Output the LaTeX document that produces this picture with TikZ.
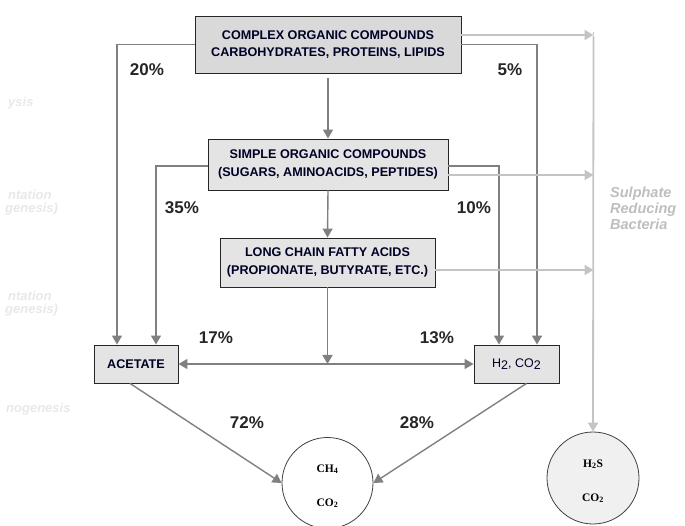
\documentclass[tikz,border=0pt]{standalone}
\usepackage{fontspec}
\setmainfont{Liberation Sans}
\newfontfamily\timesf{Liberation Serif}
\usetikzlibrary{arrows.meta}
\definecolor{darkln}{HTML}{808080}
\definecolor{lightln}{HTML}{C4C4C4}
\definecolor{faint}{HTML}{E8E8E8}
\definecolor{srb}{HTML}{BEBEBE}
\definecolor{boxA}{HTML}{D9D9D9}
\definecolor{boxB}{HTML}{E4E4E4}
\newcommand{\circtext}[2]{\raisebox{-3.5pt}[\height][\depth]{\begin{tabular}{@{}c@{}}#1\\[21pt]#2\end{tabular}}}
\begin{document}
\begin{tikzpicture}[x=1pt,y=-1pt,
  box/.style={draw=black!85,line width=0.9pt,rectangle,inner sep=0pt,align=center,
    font=\fontsize{12.6}{17.5}\selectfont\bfseries,text=black!85!blue},
  circ/.style={draw=black!75,line width=0.8pt,circle,inner sep=0pt,minimum size=91pt,
    align=center,font=\timesf\fontsize{11.5}{13}\selectfont\bfseries},
  dk/.style={draw=darkln,line width=1.4pt,-{Triangle[width=10pt,length=9pt]}},
  lt/.style={draw=lightln,line width=1.8pt,-{Triangle[width=10pt,length=9pt]}},
  ltn/.style={draw=lightln,line width=1.8pt},
  pct/.style={font=\fontsize{17}{19}\selectfont\bfseries,text=black!85,inner sep=0pt},
  fnt/.style={font=\fontsize{13}{13}\selectfont\bfseries\itshape,text=faint,inner sep=0pt,anchor=west}
]
\useasboundingbox (0,0) rectangle (685,526);

% faint stage labels (cut off at the left edge)
\node[fnt] (l1) at (8,103) {ysis};
\node[fnt] (l2a) at (8,195) {ntation};
\node[fnt] (l2b) at (5,209) {genesis)};
\node[fnt] (l3a) at (8,296) {ntation};
\node[fnt] (l3b) at (5,310) {genesis)};
\node[fnt] (l4) at (6,409) {nogenesis};

% boxes
\node[box,fill=boxA,minimum width=266pt,minimum height=57pt] (complex) at (328,44.5)
  {COMPLEX ORGANIC COMPOUNDS\\CARBOHYDRATES, PROTEINS, LIPIDS};
\node[box,fill=boxB,minimum width=240pt,minimum height=51pt] (simple) at (328,164.5)
  {SIMPLE ORGANIC COMPOUNDS\\(SUGARS, AMINOACIDS, PEPTIDES)};
\node[box,fill=boxB,minimum width=215pt,minimum height=49pt] (lcfa) at (327.5,262.5)
  {LONG CHAIN FATTY ACIDS\\(PROPIONATE, BUTYRATE, ETC.)};
\node[box,fill=boxB,minimum width=84pt,minimum height=38pt] (acetate) at (136,364) {ACETATE};
\node[box,fill=boxB,minimum width=85pt,minimum height=38pt,font=\fontsize{12.5}{14}\selectfont] (h2) at (516.5,364)
  {H\raisebox{-2.5pt}{2}, CO\raisebox{-2.5pt}{2}};

% circles
\node[circ,fill=white] (ch4) at (327.5,483) {\circtext{CH\textsubscript{4}}{CO\textsubscript{2}}};
\node[circ,fill=black!6,minimum size=92pt] (h2s) at (593,478) {\circtext{H\textsubscript{2}S}{CO\textsubscript{2}}};

% sulphate reducing bacteria label
\node[font=\fontsize{14.5}{16}\selectfont\bfseries\itshape,text=srb,anchor=north west,align=left,inner sep=0pt] (srbl) at (610,187)
  {Sulphate\\Reducing\\Bacteria};

% junction coordinates
\coordinate (sr) at (593.5,35);
\coordinate (mid) at (327.5,364);

% main flow
\draw[dk] ([yshift=-5pt]complex.south) -- (simple.north);
\draw[dk] (simple.south) -- (lcfa.north);
\draw[dk] (lcfa.south) -- (mid);
\draw[dk] (mid) -- (acetate.east);
\draw[dk] (mid) -- (h2.west);

% side branches to acetate
\draw[dk] (complex.west) -| ([xshift=-19pt]acetate.north);
\draw[dk] ([yshift=-1.5pt]simple.west) -| ([xshift=20pt]acetate.north);

% side branches to H2, CO2
\draw[dk] (complex.east) -| ([xshift=20.5pt]h2.north);
\draw[dk] ([yshift=-1.5pt]simple.east) -| ([xshift=-17.5pt]h2.north);

% sulphate reducing branches
\draw[ltn] (sr) -- ([yshift=3pt]sr);
\draw[lt] (complex.east |- sr) -- (sr);
\draw[lt] ([yshift=-10.5pt]simple.east) -- ([yshift=-10.5pt]simple.east -| sr);
\draw[lt] ([yshift=-7.5pt]lcfa.east) -- ([yshift=-7.5pt]lcfa.east -| sr);
\draw[lt] ([yshift=-0.9pt]sr) -- (h2s.north);

% to methane
\draw[dk] ([xshift=-6pt]acetate.south) -- (ch4.west);
\draw[dk] ([xshift=10pt]h2.south) -- (ch4.east);

% percentages
\node[pct] (p20) at (147,70) {20\%};
\node[pct] (p5) at (510,70) {5\%};
\node[pct] (p35) at (182,208) {35\%};
\node[pct] (p10) at (474,208) {10\%};
\node[pct] (p17) at (216,338) {17\%};
\node[pct] (p13) at (437,338) {13\%};
\node[pct] (p72) at (247,423) {72\%};
\node[pct] (p28) at (417,423) {28\%};
\end{tikzpicture}
\end{document}
